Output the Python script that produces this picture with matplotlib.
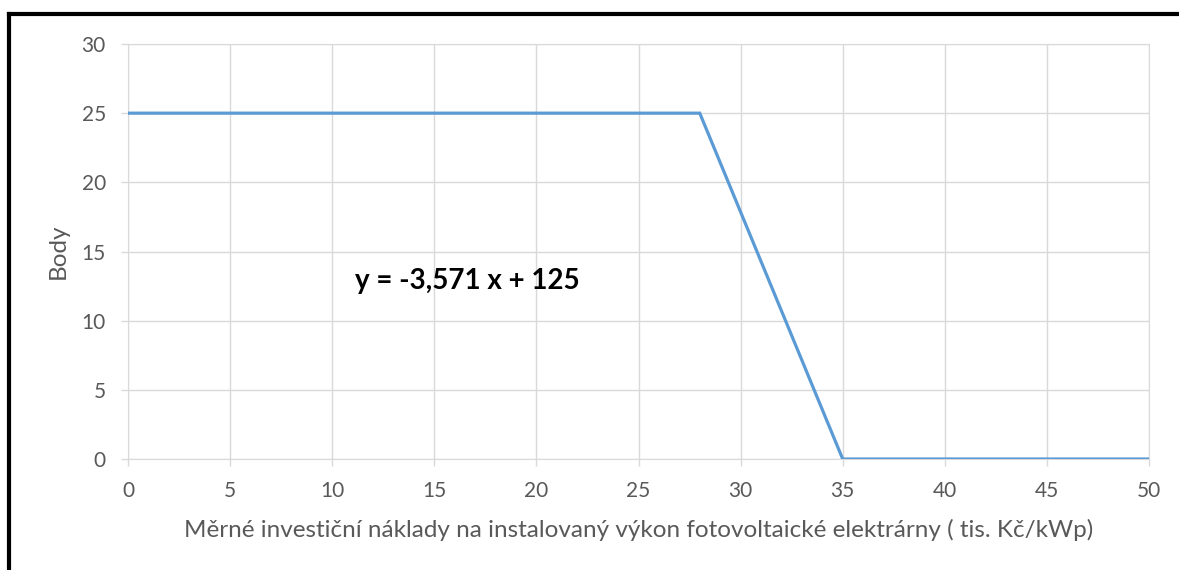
import matplotlib
matplotlib.use("Agg")
import matplotlib.pyplot as plt
from matplotlib.lines import Line2D

# data
x_vals = [0, 28, 35, 50]
y_vals = [25, 25, 0, 0]
x_ticks = [0, 5, 10, 15, 20, 25, 30, 35, 40, 45, 50]
y_ticks = [0, 5, 10, 15, 20, 25, 30]
equation = "y = -3,571 x + 125"
xlabel = "Měrné investiční náklady na instalovaný výkon fotovoltaické elektrárny ( tis. Kč/kWp)"
ylabel = "Body"

plt.rcParams["font.family"] = ["Lato", "DejaVu Sans"]
TXT = "#595959"; GRID = "#d9d9d9"; BLUE = "#5b9bd5"

fig = plt.figure(figsize=(11.79, 5.70), dpi=100)
ax = fig.add_axes([128/1179, 1-459/570, (1149-128)/1179, (459-44)/570])

ax.plot(x_vals, y_vals, color=BLUE, lw=2.3, solid_joinstyle="miter", zorder=3)
ax.set_xlim(0, 50); ax.set_ylim(0, 30)
ax.set_xticks(x_ticks); ax.set_yticks(y_ticks)
ax.grid(True, color=GRID, lw=1.0)
ax.set_axisbelow(True)
for s in ax.spines.values():
    s.set_color(GRID)
ax.tick_params(colors=GRID, labelcolor=TXT, labelsize=15, length=5, width=1.0)
ax.tick_params(axis="x", pad=11)
ax.tick_params(axis="y", pad=11)
ax.set_xlabel(xlabel, color=TXT, fontsize=17.5, labelpad=13)
ax.set_ylabel(ylabel, color=TXT, fontsize=17.5, labelpad=9)

ax.text(11.1, 12.85, equation, fontsize=20, fontweight="bold", color="black",
        ha="left", va="center")

# black frame visible at top and left of the reference
fig.add_artist(Line2D([8.5/1179, 8.5/1179], [0, 1-14/570], color="black", lw=3,
                      transform=fig.transFigure, solid_capstyle="projecting"))
fig.add_artist(Line2D([8.5/1179, 1], [1-14/570, 1-14/570], color="black", lw=3,
                      transform=fig.transFigure, solid_capstyle="projecting"))

fig.savefig("out.png", dpi=100)
